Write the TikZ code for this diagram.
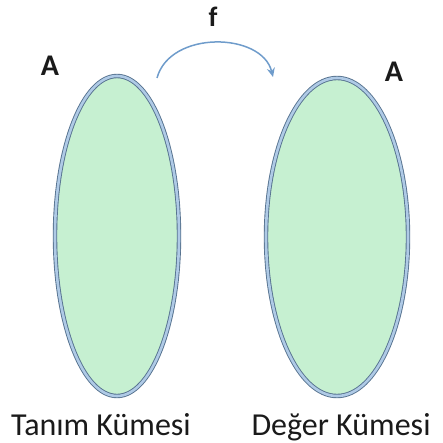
\documentclass[tikz,border=0pt]{standalone}
\usepackage{fontspec}
\setmainfont{Carlito}
\usepackage{tikz}
\usetikzlibrary{shapes.geometric, arrows.meta}

\definecolor{setfill}{HTML}{C6F0D1}
\definecolor{setedge}{HTML}{56728F}
\definecolor{setband}{HTML}{AFCAE6}
\definecolor{arrowblue}{HTML}{6F9CCB}
\definecolor{textdark}{HTML}{1A1A1A}

\tikzset{
	setshape/.style={ellipse, draw=setedge, double=setband, double distance=2.6pt,
		line width=0.9pt, fill=setfill, inner sep=0pt},
	setname/.style={font=\bfseries\fontsize{30}{30}\selectfont, text=textdark},
	caption/.style={font=\fontsize{32}{32}\selectfont, text=textdark, anchor=base},
	maparrow/.style={draw=arrowblue, line width=1.5pt, -{Stealth[length=9pt, width=8pt, open]}}
}

\begin{document}
\begin{tikzpicture}[x=1pt, y=-1pt]
		\useasboundingbox (0,0) rectangle (442,443);

		% Sets
		\node[setshape, minimum width=124, minimum height=320] (domain) at (117,236) {};
		\node[setshape, minimum width=142, minimum height=318] (range) at (337,237) {};

		% Set names
		\node[setname] (nameA) at (50,66) {A};
		\node[setname] (nameB) at (394,72) {A};

		% Mapping f
		\coordinate (fstart) at (157,78);
		\coordinate (fend) at (273,77);
		\draw[maparrow] (fstart) .. controls (170,30) and (262,32) .. (fend);
		\node[font=\bfseries\fontsize{28}{28}\selectfont, text=textdark] (fname) at (213,17) {f};

		% Captions
		\node[caption] (domaintext) at (101,435) {Tanım Kümesi};
		\node[caption] (rangetext) at (341,435) {Değer Kümesi};
	\end{tikzpicture}
\end{document}
